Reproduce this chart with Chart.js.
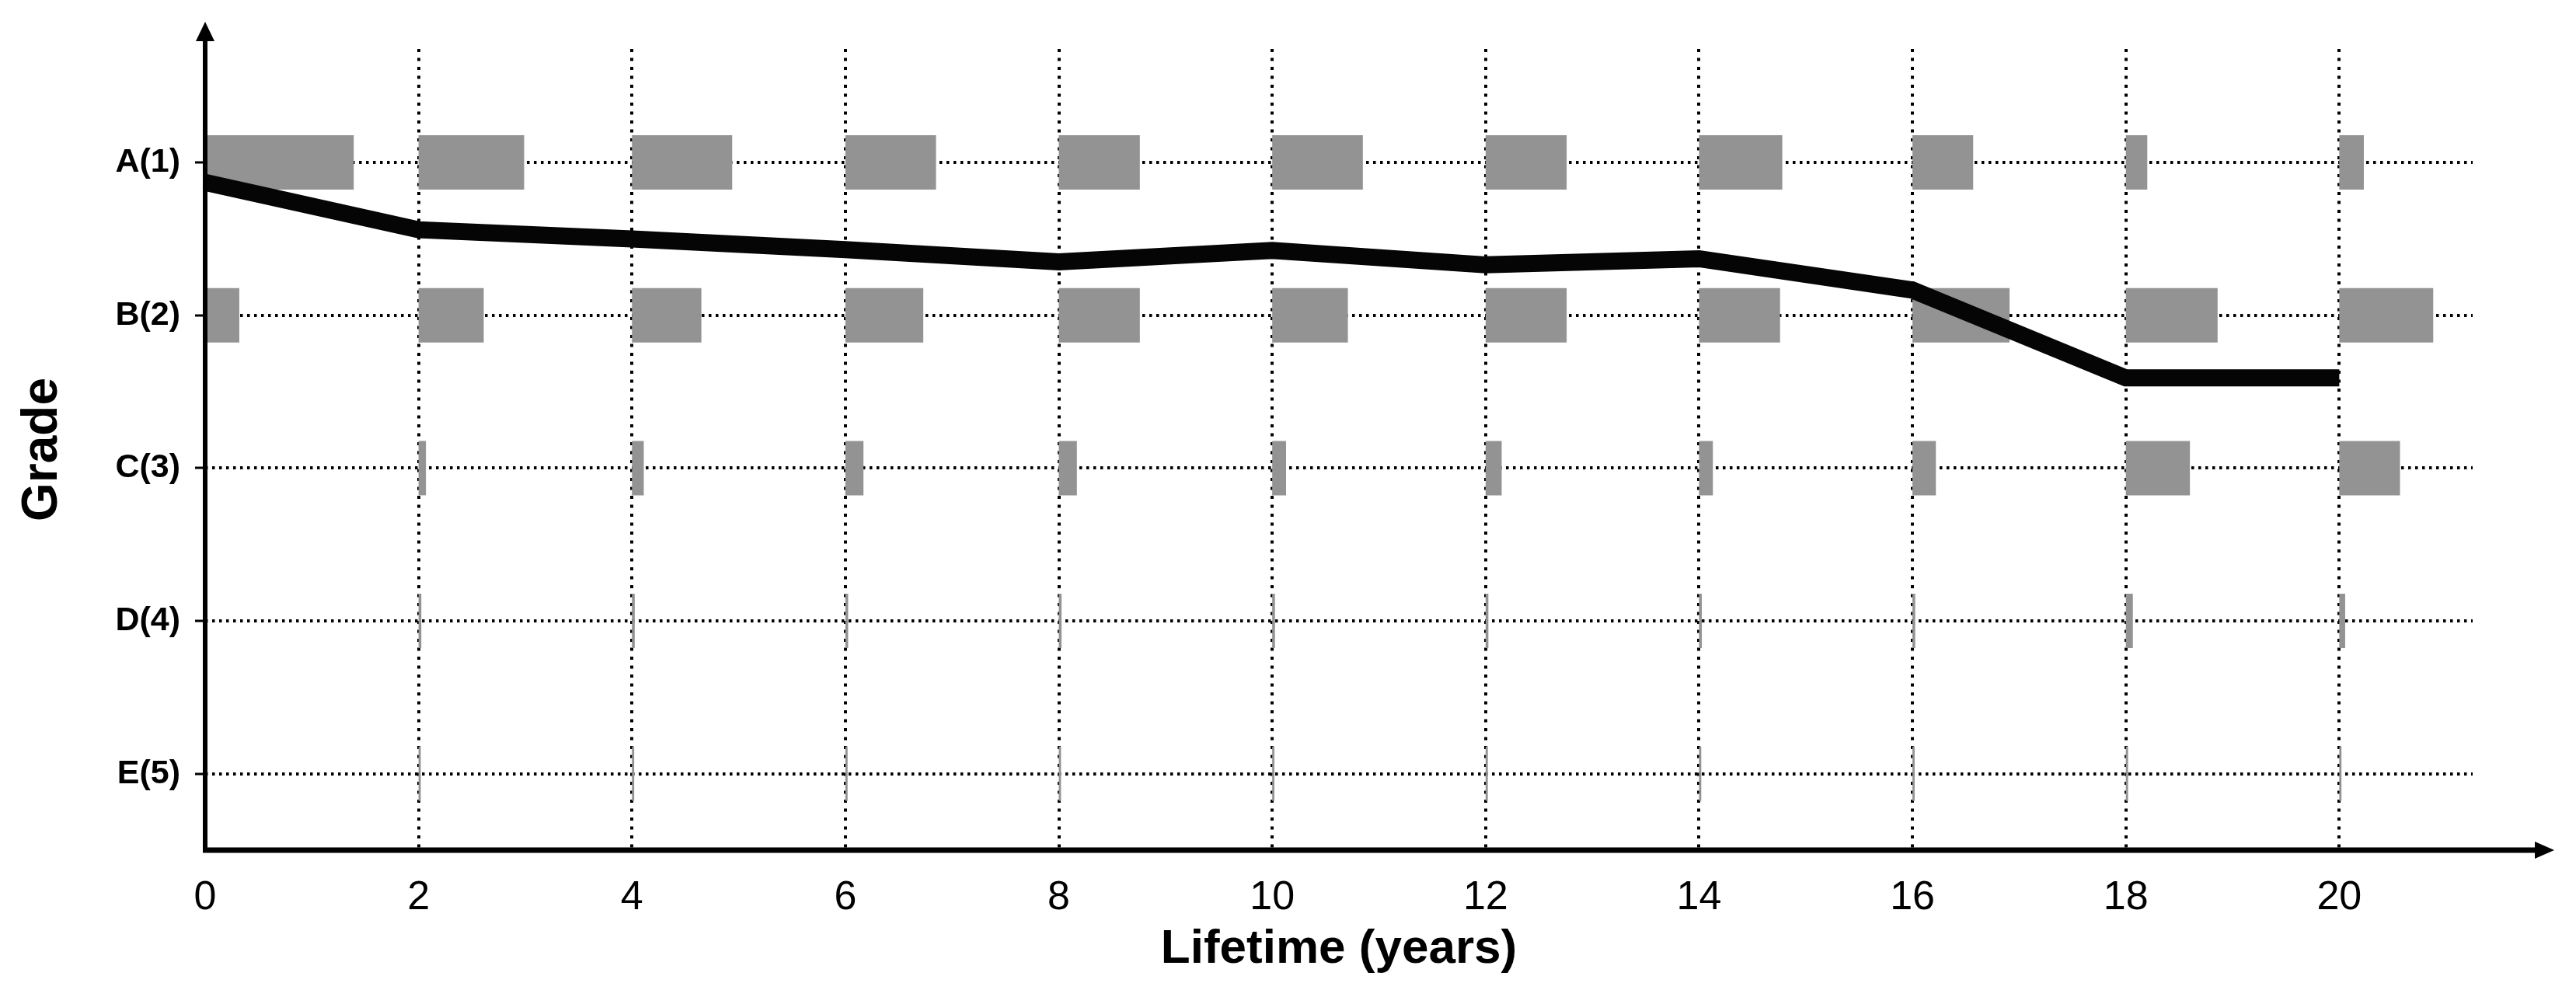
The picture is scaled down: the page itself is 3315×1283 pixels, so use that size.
<!DOCTYPE html>
<html>
<head>
<meta charset="utf-8">
<script src="https://cdn.jsdelivr.net/npm/chart.js@4.4.1/dist/chart.umd.min.js"></script>
<style>
html,body{margin:0;padding:0;background:#fff;}
canvas{display:block;}
</style>
</head>
<body>
<canvas id="c" width="3315" height="1283"></canvas>
<script>
// ---- data ----
const YEARS = [0, 2, 4, 6, 8, 10, 12, 14, 16, 18, 20];
const X_TICKS = [0, 2, 4, 6, 8, 10, 12, 14, 16, 18, 20];
const GRADES = [1, 2, 3, 4, 5];
const GRADE_LABELS = ['A(1)', 'B(2)', 'C(3)', 'D(4)', 'E(5)'];

// probability (%) of each grade at each inspection year
const PROB_A = [80.5, 57.2, 54.3, 49.1, 43.9, 49.1, 43.9, 45.1, 32.9, 11.6, 13.3];
const PROB_B = [18.5, 35.3, 37.6, 42.2, 43.9, 41.0, 43.9, 43.9, 52.6, 49.7, 50.9];
const PROB_C = [1.0, 4.0, 6.4, 9.8, 9.8, 7.5, 8.7, 7.5, 12.7, 34.7, 32.9];
const PROB_D = [0.8, 1.5, 1.5, 1.5, 1.5, 1.5, 1.5, 1.5, 1.5, 3.8, 3.2];
const PROB_E = [0.6, 1.2, 1.2, 1.2, 1.2, 1.2, 1.2, 1.2, 1.2, 1.2, 1.2];

// mean grade over lifetime (thick black line)
const MEAN_GRADE = [1.13, 1.44, 1.50, 1.57, 1.65, 1.575, 1.67, 1.63, 1.835, 2.41, 2.41];

// ---- presentation ----
const SPAN = 1.73; // years of bar length representing 100 %
const FONT = "'Liberation Sans', Arial, Helvetica, sans-serif";
const NARROW = "'Liberation Sans Narrow', 'Arial Narrow', 'Liberation Sans', Arial, sans-serif";
Chart.defaults.font.family = FONT;
Chart.defaults.color = '#000';

const PROBS = [PROB_A, PROB_B, PROB_C, PROB_D, PROB_E];

const barSets = PROBS.map((p, gi) => ({
  type: 'bar',
  indexAxis: 'y',
  label: GRADE_LABELS[gi],
  data: YEARS.map((yr, i) => ({ x: [yr, yr + p[i] / 100 * SPAN], y: GRADES[gi] })),
  backgroundColor: '#939393',
  borderWidth: 0,
  grouped: false,
  categoryPercentage: 1,
  barPercentage: 0.356,
  order: 1
}));

const lineSet = {
  type: 'line',
  indexAxis: 'x',
  label: 'Mean grade',
  data: YEARS.map((yr, i) => ({ x: yr, y: MEAN_GRADE[i] })),
  borderColor: '#050505',
  borderWidth: 22,
  borderJoinStyle: 'miter',
  pointRadius: 0,
  pointHoverRadius: 0,
  tension: 0,
  fill: false,
  order: 0
};

const axisArrows = {
  id: 'axisArrows',
  afterDatasetsDraw(chart) {
    const { ctx, chartArea: a } = chart;
    ctx.save();
    ctx.fillStyle = '#000';
    ctx.strokeStyle = '#000';
    // y axis
    ctx.lineWidth = 6;
    ctx.beginPath();
    ctx.moveTo(a.left, a.bottom + 3);
    ctx.lineTo(a.left, a.top - 20);
    ctx.stroke();
    ctx.beginPath();
    ctx.moveTo(a.left, a.top - 35);
    ctx.lineTo(a.left - 12, a.top - 10);
    ctx.lineTo(a.left + 12, a.top - 10);
    ctx.closePath();
    ctx.fill();
    // x axis
    ctx.lineWidth = 7;
    ctx.beginPath();
    ctx.moveTo(a.left - 3, a.bottom);
    ctx.lineTo(a.right + 85, a.bottom);
    ctx.stroke();
    ctx.beginPath();
    ctx.moveTo(a.right + 105, a.bottom);
    ctx.lineTo(a.right + 80, a.bottom - 11);
    ctx.lineTo(a.right + 80, a.bottom + 11);
    ctx.closePath();
    ctx.fill();
    ctx.restore();
  }
};

new Chart(document.getElementById('c'), {
  type: 'bar',
  data: { datasets: [...barSets, lineSet] },
  plugins: [axisArrows],
  options: {
    responsive: false,
    devicePixelRatio: 1,
    animation: false,
    layout: { padding: { left: 0, top: 63, right: 133, bottom: 0 } },
    plugins: { legend: { display: false }, tooltip: { enabled: false } },
    scales: {
      x: {
        type: 'linear',
        min: 0,
        max: 21.25,
        offset: false,
        afterBuildTicks: s => { s.ticks = X_TICKS.map(v => ({ value: v })); },
        afterFit: s => { s.height = 189; },
        grid: { color: '#000', lineWidth: 4, drawTicks: false, offset: false },
        border: { display: false, dash: [4, 7.5] },
        ticks: { color: '#000', font: { size: 52 }, padding: 30, maxRotation: 0, autoSkip: false },
        title: {
          display: true, text: 'Lifetime (years)', color: '#000',
          font: { size: 62, weight: 'bold' }, padding: { top: 0, bottom: 24 }
        }
      },
      y: {
        type: 'linear',
        reverse: true,
        min: 0.257,
        max: 5.5,
        offset: false,
        afterBuildTicks: s => { s.ticks = GRADES.map(v => ({ value: v })); },
        afterFit: s => { s.width = 264; },
        grid: {
          color: '#000', lineWidth: 4, drawTicks: true, tickLength: 13,
          tickColor: '#000', tickWidth: 3, tickBorderDash: [], offset: false
        },
        border: { display: false, dash: [3.5, 5.5] },
        ticks: {
          color: '#000', font: { family: NARROW, size: 43, weight: 'bold' }, padding: 19,
          callback: v => GRADE_LABELS[GRADES.indexOf(v)]
        },
        title: {
          display: true, text: 'Grade', color: '#000',
          font: { size: 64, weight: 'bold' }, padding: { top: 17, bottom: 0 }
        }
      }
    }
  }
});
</script>
</body>
</html>
